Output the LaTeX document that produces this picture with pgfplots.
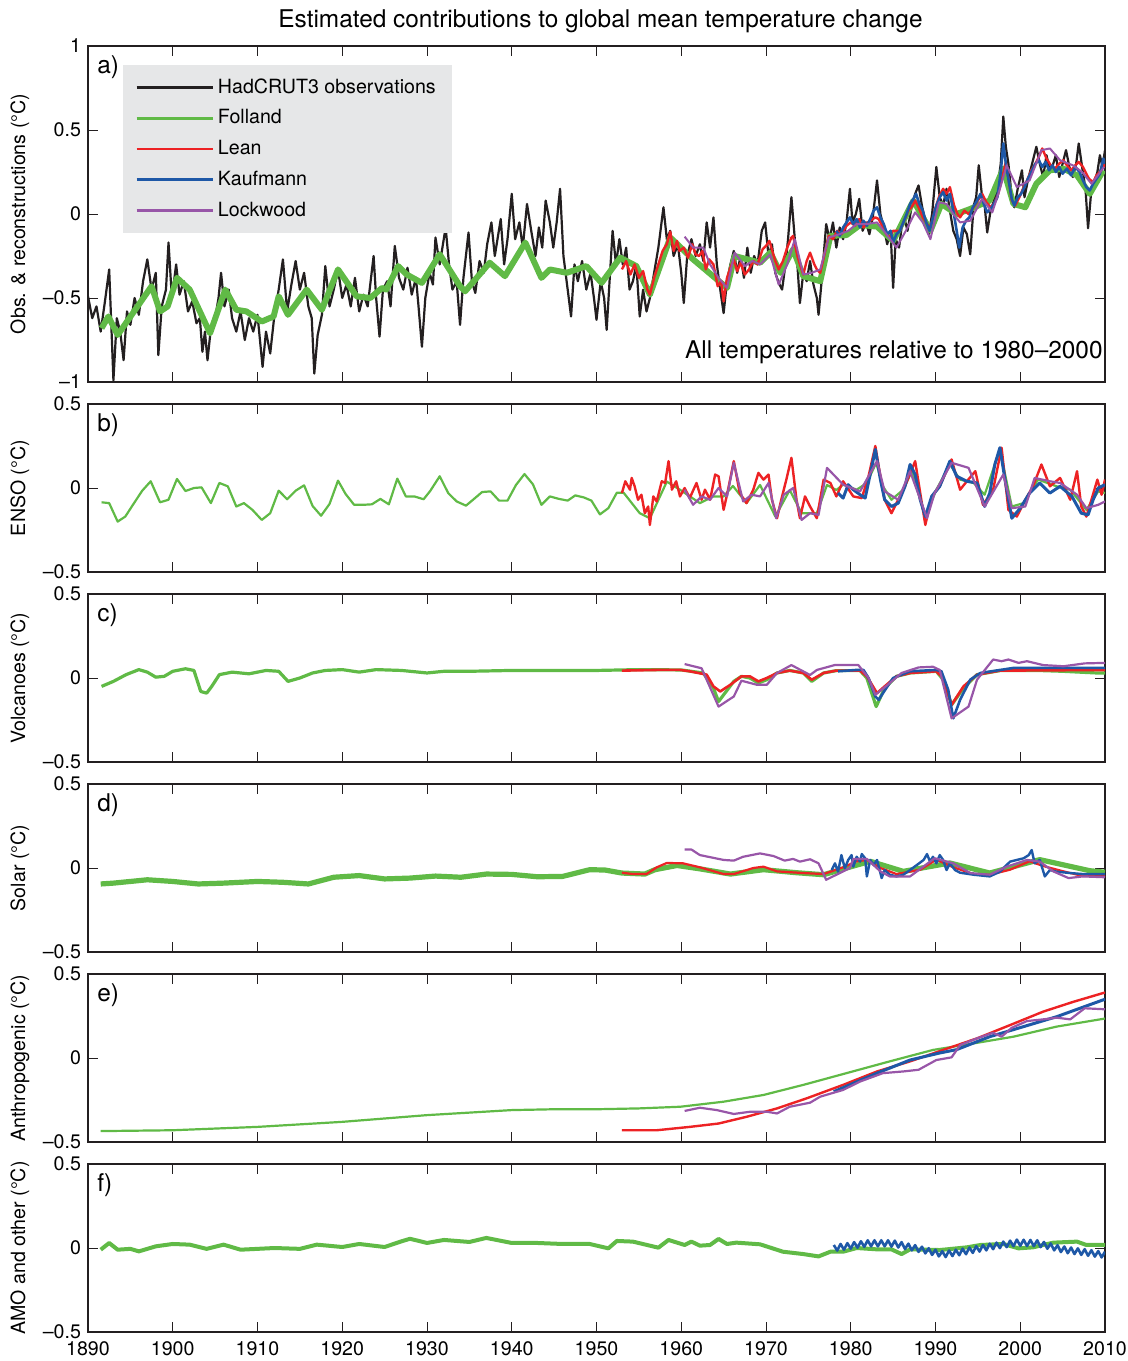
\documentclass[border=0pt]{standalone}
\usepackage{fontspec}
\setmainfont{TeX Gyre Heros}
\usepackage{pgfplots}
\pgfplotsset{compat=1.18}
\definecolor{cblk}{RGB}{35,31,32}
\definecolor{cgrn}{RGB}{96,186,70}
\definecolor{cred}{RGB}{237,34,36}
\definecolor{cblu}{RGB}{30,88,167}
\definecolor{cpur}{RGB}{152,86,168}
\definecolor{lgray}{RGB}{230,231,232}
\pgfplotsset{
  panel/.style={
    scale only axis, width=508.5pt, height=84pt,
    xmin=1890, xmax=2010, ymin=-0.5, ymax=0.5,
    xtick={1890,1900,1910,1920,1930,1940,1950,1960,1970,1980,1990,2000,2010}, xticklabels={},
    ytick={-0.5,0,0.5}, yticklabels={--0.5,0,0.5},
    tick align=inside, major tick length=5pt,
    axis line style={line width=0.9pt, cblk},
    major tick style={line width=0.5pt, cblk},
    ticklabel style={font=\fontsize{9.8}{11}\selectfont},
    xticklabel style={yshift=-1.5pt},
    label style={font=\fontsize{9.8}{11}\selectfont},
    ylabel style={at={(axis description cs:-0.0669,0.5)}, anchor=center},
    anchor=north west,
    every axis plot/.append style={line join=round},
  },
}
\tikzset{plab/.style={anchor=north west, inner sep=0pt, xshift=4.5pt, yshift=-4.5pt, font=\fontsize{12.2}{14}\selectfont}}
\begin{document}
\begin{tikzpicture}
\useasboundingbox (-44pt,23pt) rectangle (520pt,-657.5pt);
% ---------------- a ----------------
\begin{axis}[panel, at={(0pt,0pt)}, height=168pt, ymin=-1, ymax=1,
  ytick={-1,-0.5,0,0.5,1}, yticklabels={--1,--0.5,0,0.5,1},
  ylabel={Obs. \& reconstructions (°C)},
  title={Estimated contributions to global mean temperature change},
  title style={font=\fontsize{12.2}{14}\selectfont, at={(axis description cs:0.5,1)}, anchor=base, inner sep=0pt, yshift=3.5pt, xshift=2pt},
  legend style={at={(0.0344,0.946)}, anchor=north west, fill=lgray, draw=none,
    font=\fontsize{9.8}{11}\selectfont, inner xsep=6pt, inner ysep=5pt, row sep=2.7pt, cells={anchor=west}},
  legend image code/.code={\draw[#1, line width=1.3pt] (0pt,0pt) -- (38pt,0pt);},
]
\addplot[cblk, line width=1.1pt] coordinates {
(1890.0,-0.49)(1890.5,-0.62)(1891.0,-0.55)(1891.5,-0.70)(1892.0,-0.52)(1892.5,-0.33)(1893.0,-0.99)(1893.4,-0.62)(1893.8,-0.70)(1894.2,-0.87)
(1894.6,-0.58)(1895.0,-0.66)(1895.5,-0.50)(1896.0,-0.60)(1896.5,-0.40)(1897.0,-0.27)(1897.5,-0.45)(1898.0,-0.35)(1898.3,-0.84)(1898.7,-0.55)
(1899.2,-0.45)(1899.5,-0.17)(1899.9,-0.50)(1900.4,-0.30)(1900.8,-0.48)(1901.3,-0.40)(1901.8,-0.58)(1902.3,-0.52)(1902.8,-0.65)(1903.2,-0.62)
(1903.5,-0.82)(1903.8,-0.70)(1904.1,-0.87)(1904.5,-0.68)(1905.0,-0.62)(1905.4,-0.50)(1905.7,-0.35)(1906.1,-0.55)(1906.6,-0.45)(1907.0,-0.62)
(1907.5,-0.70)(1908.0,-0.58)(1908.5,-0.75)(1909.0,-0.62)(1909.5,-0.70)(1910.0,-0.60)(1910.6,-0.91)(1911.0,-0.70)(1911.5,-0.83)(1912.0,-0.60)
(1912.5,-0.45)(1913.0,-0.27)(1913.5,-0.58)(1914.0,-0.42)(1914.5,-0.28)(1915.0,-0.45)(1915.5,-0.35)(1916.0,-0.55)(1916.4,-0.62)(1916.7,-0.95)
(1917.1,-0.72)(1917.6,-0.60)(1918.0,-0.31)(1918.5,-0.55)(1919.0,-0.45)(1919.5,-0.33)(1920.0,-0.50)(1920.5,-0.42)(1921.0,-0.55)(1921.5,-0.38)
(1922.0,-0.58)(1922.5,-0.48)(1923.0,-0.55)(1923.7,-0.25)(1924.0,-0.50)(1924.4,-0.73)(1924.8,-0.45)(1925.3,-0.40)(1925.7,-0.55)(1926.2,-0.19)
(1926.7,-0.38)(1927.2,-0.45)(1927.7,-0.32)(1928.2,-0.48)(1928.7,-0.38)(1929.0,-0.55)(1929.4,-0.79)(1929.8,-0.50)(1930.3,-0.35)(1930.7,-0.42)
(1931.0,-0.14)(1931.5,-0.30)(1932.2,-0.08)(1932.6,-0.30)(1933.0,-0.45)(1933.5,-0.40)(1933.9,-0.66)(1934.3,-0.38)(1934.9,-0.11)(1935.3,-0.40)
(1935.7,-0.47)(1936.2,-0.28)(1936.7,-0.35)(1937.1,-0.18)(1937.6,-0.05)(1938.0,-0.25)(1938.7,-0.03)(1939.1,-0.30)(1939.5,-0.15)(1940.0,0.12)
(1940.4,-0.15)(1940.9,-0.05)(1941.3,-0.20)(1941.8,0.06)(1942.3,-0.10)(1942.8,-0.25)(1943.2,-0.08)(1943.6,-0.20)(1944.0,0.08)(1944.5,-0.05)
(1944.9,-0.20)(1945.3,-0.05)(1945.7,0.15)(1946.1,-0.25)(1946.6,-0.45)(1947.0,-0.61)(1947.4,-0.30)(1947.8,-0.40)(1948.3,-0.28)(1948.8,-0.45)
(1949.3,-0.35)(1949.7,-0.50)(1950.0,-0.63)(1950.5,-0.40)(1950.9,-0.50)(1951.2,-0.69)(1951.6,-0.35)(1951.9,-0.10)(1952.3,-0.30)(1952.7,-0.15)
(1953.1,-0.30)(1953.5,-0.20)(1953.9,-0.45)(1954.3,-0.40)(1954.7,-0.30)(1955.1,-0.61)(1955.5,-0.45)(1955.9,-0.58)(1956.3,-0.50)(1956.8,-0.35)
(1957.3,-0.20)(1957.9,0.04)(1958.3,-0.15)(1958.7,-0.10)(1959.1,-0.25)(1959.6,-0.18)(1960.0,-0.35)(1960.3,-0.53)(1960.7,-0.25)(1961.2,-0.15)
(1961.7,-0.25)(1962.2,-0.18)(1962.6,-0.28)(1963.0,-0.05)(1963.4,-0.20)(1963.8,-0.02)(1964.2,-0.30)(1964.6,-0.45)(1965.0,-0.59)(1965.4,-0.40)
(1965.8,-0.30)(1966.2,-0.22)(1966.6,-0.35)(1967.0,-0.25)(1967.4,-0.38)(1967.8,-0.20)(1968.2,-0.35)(1968.6,-0.25)(1969.0,-0.30)(1969.5,-0.10)
(1969.9,-0.05)(1970.3,-0.25)(1970.7,-0.18)(1971.1,-0.35)(1971.5,-0.41)(1971.9,-0.45)(1972.3,-0.30)(1972.6,-0.15)(1973.0,0.10)(1973.4,-0.15)
(1973.7,-0.30)(1974.0,-0.53)(1974.4,-0.35)(1974.8,-0.40)(1975.2,-0.28)(1975.6,-0.42)(1976.0,-0.50)(1976.2,-0.60)(1976.6,-0.38)(1977.1,-0.06)
(1977.5,-0.15)(1977.9,-0.05)(1978.3,-0.20)(1978.7,-0.08)(1979.1,-0.15)(1979.5,-0.05)(1979.9,0.15)(1980.2,-0.05)(1980.6,0.00)(1981.0,0.09)
(1981.4,-0.10)(1981.8,-0.05)(1982.2,-0.12)(1982.6,-0.02)(1983.1,0.20)(1983.5,0.00)(1983.9,-0.08)(1984.3,-0.18)(1984.7,-0.10)(1985.0,-0.44)
(1985.3,-0.15)(1985.7,-0.20)(1986.0,-0.08)(1986.3,-0.02)(1986.7,-0.10)(1987.2,0.05)(1987.6,0.12)(1988.0,0.17)(1988.4,0.05)(1988.8,-0.05)
(1989.2,-0.12)(1989.6,0.00)(1990.1,0.28)(1990.5,0.10)(1990.9,0.05)(1991.3,0.15)(1991.7,0.02)(1992.1,-0.10)(1992.5,-0.15)(1992.9,-0.25)
(1993.3,-0.08)(1993.7,-0.12)(1994.1,-0.24)(1994.5,0.05)(1994.8,0.10)(1995.1,0.29)(1995.5,0.10)(1995.8,0.05)(1996.1,-0.11)(1996.5,0.02)
(1996.9,0.08)(1997.3,0.15)(1997.7,0.30)(1998.0,0.58)(1998.3,0.40)(1998.6,0.30)(1999.0,0.10)(1999.3,0.04)(1999.7,0.15)(2000.2,0.26)
(2000.5,0.10)(2000.9,0.20)(2001.3,0.28)(2001.9,0.40)(2002.3,0.30)(2002.7,0.22)(2003.1,0.35)(2003.5,0.25)(2003.9,0.30)(2004.2,0.35)
(2004.6,0.22)(2005.0,0.30)(2005.4,0.38)(2005.8,0.28)(2006.2,0.22)(2006.6,0.30)(2006.9,0.42)(2007.3,0.28)(2007.7,0.15)(2008.0,-0.085)
(2008.4,0.15)(2008.8,0.20)(2009.1,0.25)(2009.4,0.35)(2009.7,0.28)(2010.0,0.38)};
\addlegendentry{HadCRUT3 observations}
\addplot[cgrn, line width=3pt] coordinates {
(1891.6,-0.68)(1892.4,-0.61)(1893.5,-0.72)(1897.5,-0.43)(1898.5,-0.58)(1899.4,-0.55)(1900.5,-0.38)(1902.0,-0.45)(1904.4,-0.71)(1906.2,-0.45)
(1907.5,-0.57)(1908.7,-0.58)(1910.5,-0.64)(1911.9,-0.61)(1912.5,-0.49)(1913.6,-0.60)(1915.8,-0.45)(1917.6,-0.57)(1919.5,-0.33)(1921.7,-0.49)
(1923.3,-0.50)(1924.7,-0.44)(1925.2,-0.45)(1926.6,-0.31)(1927.6,-0.36)(1929.4,-0.41)(1931.5,-0.24)(1933.9,-0.43)(1934.5,-0.46)(1937.4,-0.29)
(1939.2,-0.37)(1941.6,-0.17)(1943.5,-0.38)(1944.5,-0.33)(1946.5,-0.35)(1948.8,-0.31)(1950.6,-0.41)(1952.8,-0.26)(1954.7,-0.31)(1956.3,-0.48)
(1958.7,-0.14)(1961.4,-0.27)(1965.4,-0.44)(1966.3,-0.25)(1969.3,-0.29)(1970.5,-0.23)(1971.7,-0.35)(1973.2,-0.21)(1974.4,-0.37)(1976.4,-0.40)
(1977.6,-0.13)(1979.5,-0.125)(1981.1,-0.065)(1983.1,-0.075)(1985.0,-0.16)(1987.4,0.08)(1989.4,-0.10)(1990.7,0.06)(1992.5,0.0)(1994.1,0.03)
(1996.4,0.08)(1998.0,0.27)(1999.2,0.06)(2000.6,0.04)(2001.9,0.18)(2003.5,0.26)(2005.1,0.27)(2006.7,0.23)(2008.2,0.12)(2009.8,0.26)};
\addlegendentry{Folland}
\addplot[cred, line width=1.2pt] coordinates {
(1953.0,-0.33)(1953.5,-0.28)(1954.0,-0.36)(1954.5,-0.30)(1955.0,-0.38)(1955.5,-0.34)(1956.0,-0.45)(1956.3,-0.48)(1956.8,-0.38)(1957.3,-0.30)
(1957.8,-0.22)(1958.3,-0.18)(1958.7,-0.105)(1959.1,-0.22)(1959.5,-0.16)(1959.8,-0.22)(1960.3,-0.20)(1960.8,-0.26)(1961.3,-0.18)(1961.7,-0.24)
(1962.1,-0.25)(1962.5,-0.22)(1962.9,-0.33)(1963.3,-0.27)(1963.8,-0.30)(1964.3,-0.43)(1964.7,-0.40)(1965.0,-0.52)(1965.4,-0.38)(1965.8,-0.32)
(1966.2,-0.27)(1966.6,-0.34)(1967.0,-0.29)(1967.5,-0.36)(1968.0,-0.33)(1968.5,-0.28)(1969.0,-0.30)(1969.6,-0.21)(1970.0,-0.19)(1970.4,-0.16)
(1970.8,-0.23)(1971.1,-0.28)(1971.5,-0.33)(1972.0,-0.28)(1972.5,-0.20)(1973.0,-0.14)(1973.2,-0.13)(1973.7,-0.25)(1974.0,-0.30)(1974.4,-0.36)
(1974.8,-0.28)(1975.2,-0.23)(1975.7,-0.30)(1976.0,-0.33)(1976.4,-0.35)(1976.9,-0.24)(1977.4,-0.13)(1977.9,-0.15)(1978.4,-0.10)(1978.9,-0.12)
(1979.5,-0.07)(1980.0,-0.05)(1980.5,-0.07)(1981.0,-0.03)(1981.5,-0.08)(1982.0,-0.05)(1982.9,-0.02)(1983.3,-0.03)(1983.8,-0.08)(1984.2,-0.12)
(1984.6,-0.14)(1985.0,-0.10)(1985.8,-0.10)(1986.3,-0.04)(1986.8,0.02)(1987.3,0.05)(1987.6,0.08)(1988.0,0.04)(1988.5,-0.02)(1989.0,-0.06)
(1989.4,-0.08)(1989.9,0.02)(1990.4,0.10)(1990.9,0.15)(1991.3,0.12)(1991.7,0.16)(1992.2,0.05)(1992.6,0.00)(1992.9,-0.02)(1993.4,0.02)
(1993.9,0.00)(1994.5,0.04)(1995.0,0.08)(1995.5,0.12)(1996.0,0.07)(1996.5,0.04)(1996.9,0.06)(1997.4,0.12)(1997.9,0.22)(1998.3,0.31)
(1998.7,0.18)(1999.0,0.08)(1999.4,0.05)(1999.9,0.10)(2000.4,0.16)(2000.8,0.20)(2001.3,0.26)(2001.8,0.30)(2002.2,0.34)(2002.6,0.39)
(2003.1,0.33)(2003.6,0.29)(2004.1,0.27)(2004.6,0.30)(2005.1,0.32)(2005.5,0.29)(2006.0,0.26)(2006.5,0.29)(2006.9,0.31)(2007.4,0.28)
(2007.8,0.24)(2008.1,0.21)(2008.6,0.19)(2009.0,0.23)(2009.4,0.25)(2009.8,0.30)(2010.0,0.28)};
\addlegendentry{Lean}
\addplot[cblu, line width=1.3pt] coordinates {
(1978.3,-0.10)(1978.7,-0.13)(1979.1,-0.08)(1979.5,-0.05)(1979.9,-0.02)(1980.3,-0.06)(1980.7,-0.03)(1981.1,-0.08)(1981.5,-0.04)(1981.9,-0.07)
(1982.3,-0.03)(1982.7,0.02)(1983.1,0.04)(1983.5,-0.02)(1983.9,-0.06)(1984.3,-0.12)(1984.7,-0.10)(1985.0,-0.17)(1985.4,-0.12)(1985.8,-0.10)
(1986.2,-0.05)(1986.6,0.00)(1987.0,0.06)(1987.4,0.09)(1987.7,0.12)(1988.1,0.06)(1988.5,0.02)(1988.9,-0.05)(1989.3,-0.10)(1989.7,-0.02)
(1990.1,0.05)(1990.5,0.10)(1990.9,0.13)(1991.3,0.08)(1991.7,0.12)(1992.1,0.02)(1992.5,-0.10)(1992.8,-0.20)(1993.2,-0.08)(1993.6,-0.04)
(1994.0,-0.02)(1994.4,0.04)(1994.8,0.07)(1995.3,0.12)(1995.7,0.06)(1996.1,0.01)(1996.5,0.03)(1996.9,0.06)(1997.3,0.10)(1997.7,0.25)
(1998.0,0.42)(1998.3,0.30)(1998.7,0.18)(1999.0,0.09)(1999.3,0.05)(1999.7,0.10)(2000.1,0.12)(2000.5,0.16)(2000.9,0.21)(2001.3,0.25)
(2001.8,0.30)(2002.2,0.32)(2002.6,0.28)(2003.0,0.31)(2003.4,0.26)(2003.8,0.29)(2004.2,0.25)(2004.6,0.28)(2005.0,0.24)(2005.5,0.27)
(2006.0,0.23)(2006.5,0.28)(2007.0,0.25)(2007.4,0.20)(2007.8,0.16)(2008.2,0.14)(2008.6,0.18)(2009.0,0.21)(2009.4,0.24)(2009.8,0.33)(2010.0,0.30)};
\addlegendentry{Kaufmann}
\addplot[cpur, line width=1pt] coordinates {
(1960.4,-0.135)(1961.4,-0.20)(1962.6,-0.20)(1963.4,-0.30)(1964.4,-0.38)(1965.4,-0.44)(1966.3,-0.23)(1967.5,-0.31)(1968.4,-0.28)(1969.3,-0.30)
(1970.5,-0.24)(1971.5,-0.42)(1972.5,-0.30)(1973.4,-0.15)(1974.4,-0.36)(1975.4,-0.35)(1976.4,-0.33)(1977.4,-0.14)(1978.7,-0.12)(1979.7,-0.10)
(1980.7,-0.06)(1981.9,-0.06)(1983.1,-0.05)(1984.2,-0.12)(1985.4,-0.20)(1986.5,-0.10)(1987.6,0.01)(1988.5,-0.05)(1989.4,-0.15)(1990.4,0.07)
(1991.3,0.06)(1992.1,0.0)(1992.9,-0.05)(1994.1,-0.04)(1995.5,0.09)(1996.7,0.01)(1997.6,0.15)(1998.4,0.29)(1999.6,0.16)(2001.1,0.20)
(2002.5,0.38)(2003.5,0.39)(2004.7,0.32)(2006.2,0.29)(2007.3,0.25)(2008.4,0.18)(2009.9,0.28)};
\addlegendentry{Lockwood}
\node[plab] at (rel axis cs:0,1) {a)};
\node[anchor=base east, inner sep=0pt, xshift=-1pt, yshift=11.8pt, font=\fontsize{12.2}{14}\selectfont] at (rel axis cs:1,0) {All temperatures relative to 1980--2000};
\end{axis}
% ---------------- b ----------------
\begin{axis}[panel, at={(0pt,-179pt)}, ylabel={ENSO (°C)}]
\addplot[cgrn, line width=1.1pt] coordinates {
(1891.6,-0.085)(1892.5,-0.09)(1893.5,-0.20)(1894.4,-0.17)(1895.3,-0.10)(1896.4,-0.016)(1897.4,0.04)(1898.5,-0.085)(1899.5,-0.07)(1900.5,0.054)
(1901.5,-0.018)(1902.5,0.0)(1903.4,0.004)(1904.5,-0.09)(1905.5,0.03)(1906.5,0.01)(1907.5,-0.11)(1908.4,-0.09)(1909.4,-0.13)(1910.5,-0.19)
(1911.5,-0.15)(1912.5,-0.016)(1913.5,-0.067)(1914.5,-0.016)(1915.5,0.016)(1916.5,-0.107)(1917.5,-0.165)(1918.5,-0.095)(1919.5,0.044)(1920.4,-0.036)
(1921.4,-0.1)(1922.5,-0.1)(1923.5,-0.097)(1924.5,-0.065)(1925.5,-0.097)(1926.5,0.056)(1927.5,-0.05)(1928.5,-0.05)(1929.6,-0.067)(1930.4,-0.016)
(1931.5,0.07)(1932.5,-0.03)(1933.5,-0.08)(1934.6,-0.105)(1935.5,-0.067)(1936.5,-0.024)(1937.5,-0.02)(1938.5,-0.075)(1939.5,-0.075)(1940.5,0.018)
(1941.5,0.083)(1942.5,0.022)(1943.5,-0.10)(1944.5,-0.05)(1945.5,-0.064)(1946.6,-0.075)(1947.5,-0.044)(1948.5,-0.056)(1949.4,-0.075)(1950.4,-0.157)
(1951.4,-0.12)(1952.4,-0.028)(1953.2,-0.028)(1955.1,-0.15)(1956.3,-0.18)(1958.3,0.038)(1959.9,-0.012)(1962.2,-0.09)(1963.8,-0.05)(1965.0,-0.05)
(1966.1,0.012)(1967.7,-0.09)(1969.3,0.018)(1971.1,-0.17)(1972.8,-0.012)(1974.2,-0.15)(1976.0,-0.15)(1977.2,0.018)(1978.3,-0.012)(1979.1,0.02)
(1980.7,-0.01)(1981.9,0.03)(1983.0,0.15)(1983.8,0.01)(1984.8,-0.07)(1986.2,-0.01)(1987.2,0.10)(1988.8,-0.17)(1990.1,-0.01)(1991.7,0.14)
(1992.9,0.05)(1994.5,0.03)(1995.8,-0.04)(1997.6,0.23)(1999.0,-0.11)(2000.4,-0.09)(2002.1,0.05)(2004.3,0.01)(2005.9,-0.01)(2007.8,-0.13)
(2009.2,-0.02)(2010,-0.03)};
\addplot[cred, line width=1.2pt] coordinates {
(1953.0,-0.03)(1953.4,0.04)(1953.95,-0.01)(1954.15,0.06)(1954.5,0.01)(1954.9,-0.07)(1955.3,-0.04)(1955.7,-0.15)(1956.1,-0.11)(1956.3,-0.22)
(1956.7,-0.05)(1957.1,-0.08)(1957.7,0.04)(1958.1,0.03)(1958.5,0.16)(1958.9,-0.01)(1959.4,0.04)(1959.85,-0.05)(1960.4,0.0)(1961.0,-0.06)
(1961.8,0.03)(1962.4,-0.07)(1962.8,-0.01)(1963.4,-0.07)(1964.0,0.08)(1964.4,0.07)(1965.0,-0.13)(1965.4,-0.04)(1966.2,0.16)(1966.9,-0.03)
(1967.7,-0.09)(1968.5,-0.01)(1969.1,0.09)(1969.7,0.05)(1970.3,0.08)(1970.7,-0.07)(1971.3,-0.18)(1971.8,-0.07)(1972.4,0.05)(1973.0,0.18)
(1973.6,-0.07)(1974.0,-0.18)(1974.6,-0.05)(1975.2,-0.11)(1976.0,-0.18)(1976.8,0.05)(1977.6,0.03)(1978.3,-0.05)(1979.1,0.04)(1980.3,-0.05)
(1981.3,-0.06)(1982.1,0.07)(1982.9,0.25)(1983.5,0.07)(1984.0,-0.07)(1984.8,-0.15)(1985.6,-0.07)(1986.4,0.01)(1987.6,0.16)(1988.2,-0.03)
(1988.8,-0.22)(1989.55,-0.05)(1990.5,0.01)(1991.9,0.17)(1992.9,-0.01)(1993.7,0.04)(1994.7,0.10)(1995.6,-0.10)(1996.8,-0.01)(1997.8,0.24)
(1998.6,-0.13)(1999.6,-0.17)(2000.6,-0.07)(2001.5,0.01)(2002.5,0.14)(2003.5,0.01)(2004.7,0.06)(2005.9,-0.07)(2006.7,0.10)(2007.2,-0.11)
(2007.8,-0.17)(2008.4,-0.07)(2009.1,0.05)(2009.6,-0.04)(2010.0,0.05)};
\addplot[cblu, line width=1.5pt] coordinates {
(1978.5,-0.03)(1979.1,-0.06)(1979.7,0.02)(1980.3,-0.01)(1981.1,-0.04)(1981.7,-0.06)(1982.5,0.13)(1982.9,0.23)(1983.5,0.05)(1984.0,-0.07)
(1984.8,-0.11)(1985.6,-0.09)(1986.4,0.01)(1987.0,0.14)(1987.6,0.08)(1988.2,-0.07)(1988.8,-0.17)(1989.55,-0.05)(1990.5,0.01)(1991.7,0.16)
(1992.5,0.07)(1993.7,0.04)(1994.9,0.03)(1995.8,-0.11)(1996.4,-0.03)(1997.0,0.14)(1997.6,0.24)(1998.2,0.05)(1999.0,-0.18)(2000.0,-0.12)
(2001.1,-0.03)(2002.3,0.03)(2003.5,-0.03)(2004.7,0.01)(2006.1,-0.05)(2007.2,-0.15)(2008.0,-0.16)(2008.6,-0.07)(2009.2,0.0)(2010.0,0.02)};
\addplot[cpur, line width=1.1pt] coordinates {
(1960.4,-0.01)(1961.4,-0.10)(1962.4,-0.05)(1963.4,-0.07)(1964.4,0.0)(1965.4,-0.05)(1966.2,0.15)(1967.3,-0.08)(1968.3,-0.04)(1969.3,-0.05)
(1970.3,0.03)(1971.2,-0.18)(1972.1,-0.04)(1973.2,0.0)(1974.2,-0.19)(1975.2,-0.15)(1976.2,-0.16)(1977.2,0.12)(1979.1,0.02)(1981.1,-0.02)
(1983.1,0.16)(1984.0,-0.02)(1985.6,-0.07)(1987.0,0.10)(1989.0,-0.18)(1989.9,-0.03)(1991.9,0.15)(1993.9,0.12)(1995.8,-0.11)(1998.0,0.08)
(1999.0,-0.12)(2000.6,-0.11)(2001.7,0.06)(2003.5,0.04)(2004.7,0.03)(2006.7,-0.04)(2007.8,-0.12)(2009.2,-0.10)(2010.0,-0.08)};
\node[plab] at (rel axis cs:0,1) {b)};
\end{axis}
% ---------------- c ----------------
\begin{axis}[panel, at={(0pt,-274pt)}, ylabel={Volcanoes (°C)}]
\addplot[cgrn, line width=1.6pt] coordinates {
(1891.6,-0.05)(1893,-0.02)(1894.5,0.02)(1896,0.05)(1897,0.035)(1898,0.005)(1899,0.01)(1900,0.04)(1901.5,0.055)(1902.5,0.045)
(1903.3,-0.08)(1904,-0.09)(1904.6,-0.05)(1905.5,0.02)(1907,0.035)(1909,0.025)(1911,0.045)(1912.5,0.04)(1913.6,-0.02)(1915,0.0)
(1916.5,0.03)(1918,0.045)(1920,0.05)(1922,0.035)(1924,0.05)(1927,0.045)(1930,0.03)(1932,0.04)(1935,0.04)(1940,0.045)
(1945,0.045)(1950,0.045)(1955,0.05)(1960,0.048)(1962.6,0.03)(1963.8,-0.06)(1964.4,-0.14)(1965.3,-0.08)(1966.2,-0.02)(1967.1,0.01)
(1968.1,0.0)(1969.1,-0.03)(1970.1,-0.01)(1971.3,0.03)(1972.8,0.045)(1974.4,0.03)(1975.4,-0.02)(1976.8,0.03)(1978.3,0.044)(1981.1,0.044)
(1981.9,0.0)(1983.0,-0.17)(1984.0,-0.06)(1985.4,0.01)(1987,0.03)(1990.1,0.04)(1990.9,-0.01)(1991.9,-0.16)(1993.3,-0.06)(1994.9,0.02)
(1997.6,0.044)(2002,0.045)(2005,0.04)(2009,0.03)(2010,0.03)};
\addplot[cred, line width=1.3pt] coordinates {
(1953.0,0.044)(1957.1,0.048)(1959.9,0.048)(1961.0,0.04)(1963.0,0.02)(1963.8,-0.05)(1964.6,-0.08)(1965.8,-0.04)(1967.1,0.01)(1968.1,0.01)
(1969.1,-0.02)(1970.1,0.0)(1971.3,0.03)(1972.8,0.044)(1974.4,0.03)(1975.4,-0.01)(1976.8,0.03)(1978.3,0.044)(1981.1,0.044)(1981.9,0.01)
(1983.1,-0.09)(1984.0,-0.05)(1985.4,0.01)(1987.0,0.03)(1990.1,0.04)(1990.9,0.0)(1991.9,-0.16)(1993.3,-0.05)(1994.9,0.02)(1997.6,0.044)(2010,0.048)};
\addplot[cblu, line width=1.3pt] coordinates {
(1978.5,0.04)(1980.7,0.048)(1981.5,0.048)(1982.1,0.0)(1982.9,-0.11)(1983.3,-0.13)(1983.8,-0.09)(1985.0,0.0)(1987.0,0.04)(1990.1,0.048)
(1990.7,0.04)(1991.5,-0.07)(1992.1,-0.24)(1992.9,-0.13)(1994.1,-0.01)(1995.3,0.03)(1999.2,0.06)(2010,0.06)};
\addplot[cpur, line width=1.1pt] coordinates {
(1960.4,0.083)(1962.4,0.058)(1964.4,-0.17)(1966.2,-0.11)(1967.1,-0.016)(1968.9,-0.04)(1970.1,-0.04)(1971.3,0.03)(1973.0,0.077)(1975.2,0.018)
(1976.0,0.048)(1978.1,0.077)(1980.9,0.077)(1982.1,0.0)(1982.9,-0.10)(1984.6,-0.03)(1986.0,0.03)(1988.0,0.063)(1989.7,0.067)(1990.5,0.048)
(1991.9,-0.24)(1993.9,-0.17)(1994.9,-0.01)(1996.8,0.11)(1997.8,0.10)(1998.6,0.11)(1999.8,0.09)(2000.8,0.10)(2002.7,0.077)(2005.1,0.07)
(2007.6,0.087)(2010.0,0.09)};
\node[plab] at (rel axis cs:0,1) {c)};
\end{axis}
% ---------------- d ----------------
\begin{axis}[panel, at={(0pt,-369pt)}, ylabel={Solar (°C)}]
\addplot[cgrn, line width=2.6pt] coordinates {
(1891.5,-0.095)(1893,-0.09)(1895,-0.08)(1897,-0.07)(1900,-0.08)(1903,-0.095)(1906,-0.09)(1910,-0.08)(1913,-0.085)(1916,-0.095)
(1919,-0.055)(1922,-0.045)(1925,-0.065)(1928,-0.06)(1931,-0.048)(1934,-0.055)(1937,-0.036)(1940,-0.038)(1943,-0.052)(1946,-0.05)
(1949.2,-0.01)(1951,-0.012)(1953,-0.03)(1955.7,-0.036)(1956.9,-0.01)(1959.5,0.015)(1962.2,-0.005)(1965.8,-0.036)(1969.7,-0.01)(1973.6,-0.028)
(1976.8,-0.04)(1979.5,0.0)(1982.3,0.04)(1986.2,-0.02)(1991.7,0.03)(1996.4,-0.03)(2002.3,0.05)(2008.2,-0.016)(2010,-0.025)};
\addplot[cred, line width=1.1pt] coordinates {
(1953.0,-0.028)(1954.3,-0.036)(1955.9,-0.036)(1957.1,0.004)(1958.3,0.03)(1960.2,0.028)(1962.2,0.004)(1965.0,-0.036)(1966.2,-0.036)(1968.5,0.0)
(1969.7,0.008)(1971.3,-0.02)(1974.4,-0.03)(1976.8,-0.036)(1979.1,0.004)(1980.7,0.04)(1981.9,0.048)(1983.5,0.0)(1985.4,-0.036)(1988.2,-0.01)
(1990.1,0.05)(1992.1,0.004)(1994.5,-0.036)(1996.4,-0.04)(1998.8,-0.01)(2001.1,0.04)(2002.7,0.012)(2005.1,-0.02)(2007.4,-0.048)(2010,-0.048)};
\addplot[cblu, line width=1.2pt] coordinates {
(1977.75,-0.012)(1978.14,0.028)(1978.5,-0.022)(1978.9,0.077)(1979.3,-0.002)(1979.7,0.048)(1980.1,0.077)(1980.3,0.008)(1980.7,0.067)(1981.1,0.038)
(1981.3,0.083)(1981.7,0.058)(1981.9,-0.05)(1982.3,0.048)(1982.7,0.018)(1983.1,0.048)(1983.65,-0.06)(1984.0,-0.012)(1984.6,-0.04)(1985.4,-0.05)
(1986.2,-0.04)(1987.0,-0.012)(1987.8,0.018)(1988.6,0.048)(1989.0,0.083)(1989.35,0.038)(1989.7,0.067)(1990.1,0.028)(1990.5,0.077)(1990.9,0.048)
(1991.3,-0.012)(1991.7,0.028)(1992.3,-0.012)(1992.9,-0.028)(1994.5,-0.04)(1996.4,-0.05)(1997.6,-0.022)(1998.8,0.038)(1999.6,0.048)(2000.4,0.058)
(2001.0,0.077)(2001.35,0.107)(2001.7,0.028)(2002.3,0.048)(2002.9,-0.05)(2003.5,-0.012)(2004.3,-0.022)(2005.9,-0.03)(2007.4,-0.036)(2010,-0.036)};
\addplot[cpur, line width=1.1pt] coordinates {
(1960.4,0.11)(1961.2,0.11)(1962.2,0.077)(1965.0,0.048)(1966.2,0.044)(1967.3,0.067)(1969.3,0.087)(1970.9,0.071)(1972.2,0.044)(1973.2,0.054)
(1974.0,0.038)(1975.2,0.052)(1976.2,0.028)(1977.1,-0.07)(1979.9,0.0)(1980.3,0.054)(1981.9,0.054)(1983.5,-0.02)(1984.6,-0.05)(1987.0,-0.05)
(1989.9,0.058)(1992.1,0.028)(1994.1,-0.03)(1996.4,-0.04)(1998.4,0.008)(2000.8,0.048)(2002.3,0.038)(2003.9,-0.02)(2005.7,-0.06)(2007.4,-0.05)(2010,-0.055)};
\node[plab] at (rel axis cs:0,1) {d)};
\end{axis}
% ---------------- e ----------------
\begin{axis}[panel, at={(0pt,-464pt)}, ylabel={Anthropogenic (°C)}]
\addplot[cgrn, line width=1.1pt] coordinates {
(1891.5,-0.435)(1900,-0.43)(1910,-0.41)(1920,-0.38)(1930,-0.34)(1940,-0.31)(1945,-0.305)(1950,-0.305)(1955,-0.30)(1959.9,-0.29)
(1965.0,-0.26)(1969.7,-0.22)(1974.4,-0.16)(1979.5,-0.09)(1984.6,-0.02)(1989.7,0.048)(1994.5,0.087)(1999.2,0.127)(2004.3,0.187)(2010,0.235)};
\addplot[cred, line width=1.2pt] coordinates {
(1953.0,-0.43)(1957.1,-0.43)(1961.0,-0.41)(1964.4,-0.39)(1967.7,-0.35)(1971.3,-0.30)(1974.8,-0.24)(1979.1,-0.16)(1983.1,-0.08)(1987.0,-0.02)
(1990.9,0.048)(1994.9,0.117)(1998.8,0.196)(2002.7,0.276)(2006.3,0.335)(2010,0.39)};
\addplot[cblu, line width=1.5pt] coordinates {
(1978.0,-0.20)(1983.1,-0.09)(1987.0,-0.012)(1990.5,0.03)(1992.5,0.05)(1996.4,0.127)(2000.4,0.187)(2004.3,0.246)(2010,0.35)};
\addplot[cpur, line width=1.1pt] coordinates {
(1960.4,-0.315)(1962.2,-0.296)(1964.2,-0.31)(1966.2,-0.333)(1968.1,-0.32)(1970.1,-0.32)(1971.3,-0.33)(1972.8,-0.29)(1975.2,-0.266)(1976.4,-0.23)
(1979.1,-0.19)(1981.1,-0.14)(1983.8,-0.09)(1986.2,-0.08)(1988.0,-0.07)(1990.1,-0.012)(1991.9,0.004)(1992.9,0.077)(1994.9,0.117)(1996.8,0.15)
(1997.8,0.127)(1999.0,0.18)(2000.8,0.22)(2002.7,0.23)(2004.3,0.24)(2005.9,0.23)(2007.6,0.296)(2010,0.29)};
\node[plab] at (rel axis cs:0,1) {e)};
\end{axis}
% ---------------- f ----------------
\begin{axis}[panel, at={(0pt,-559pt)}, ylabel={AMO and other (°C)},
  xticklabels={1890,1900,1910,1920,1930,1940,1950,1960,1970,1980,1990,2000,2010}]
\addplot[cgrn, line width=2pt] coordinates {
(1891.5,-0.01)(1892.5,0.03)(1893.5,-0.01)(1895,-0.005)(1896,-0.02)(1898,0.01)(1900,0.024)(1902,0.02)(1904,-0.005)(1906,0.02)
(1908,-0.01)(1910,-0.005)(1912,0.0)(1915,-0.005)(1917,0.02)(1920,0.006)(1922,0.024)(1925,0.006)(1927,0.04)(1928,0.055)
(1930,0.03)(1932,0.048)(1935,0.036)(1937,0.06)(1940,0.03)(1943,0.03)(1946,0.024)(1949.2,0.024)(1951.4,-0.002)(1952.4,0.042)
(1954.3,0.038)(1957.3,0.002)(1958.5,0.048)(1960.4,0.018)(1961.2,0.038)(1962.2,0.014)(1963.4,0.018)(1964.4,0.054)(1965.4,0.024)(1966.5,0.032)
(1969.3,0.022)(1972.0,-0.022)(1974.4,-0.036)(1976.2,-0.05)(1977.6,-0.022)(1979.1,-0.022)(1980.7,0.0)(1983.1,-0.008)(1984.8,-0.008)(1986.0,-0.036)
(1987.0,-0.008)(1990.5,-0.012)(1993.7,0.004)(1995.3,0.018)(1998.0,0.024)(1999.8,-0.002)(2001.5,0.004)(2003.9,0.032)(2006.7,0.038)(2007.8,0.018)(2010,0.018)};
\addplot[cblu, line width=1.3pt] coordinates {
(1978.0,0.018)(1978.4,-0.015)(1978.8,0.024)(1979.2,-0.010)(1979.6,0.029)(1980.0,-0.004)(1980.4,0.035)(1980.8,0.002)(1981.2,0.040)(1981.6,0.007)
(1982.0,0.046)(1982.4,0.010)(1982.8,0.046)(1983.2,0.010)(1983.6,0.046)(1984.0,0.010)(1984.4,0.046)(1984.8,0.008)(1985.2,0.044)(1985.6,0.003)
(1986.0,0.035)(1986.4,-0.006)(1986.8,0.026)(1987.2,-0.014)(1987.6,0.017)(1988.0,-0.023)(1988.4,0.008)(1988.8,-0.032)(1989.2,-0.001)(1989.6,-0.041)
(1990.0,-0.010)(1990.4,-0.050)(1990.8,-0.019)(1991.2,-0.054)(1991.6,-0.015)(1992.0,-0.048)(1992.4,-0.010)(1992.8,-0.043)(1993.2,-0.004)(1993.6,-0.037)
(1994.0,0.003)(1994.4,-0.029)(1994.8,0.011)(1995.2,-0.021)(1995.6,0.018)(1996.0,-0.014)(1996.4,0.026)(1996.8,-0.007)(1997.2,0.032)(1997.6,-0.001)
(1998.0,0.038)(1998.4,0.005)(1998.8,0.044)(1999.2,0.011)(1999.6,0.050)(2000.0,0.013)(2000.4,0.049)(2000.8,0.012)(2001.2,0.048)(2001.6,0.011)
(2002.0,0.046)(2002.4,0.005)(2002.8,0.036)(2003.2,-0.004)(2003.6,0.027)(2004.0,-0.014)(2004.4,0.017)(2004.8,-0.024)(2005.2,0.009)(2005.6,-0.031)
(2006.0,0.003)(2006.4,-0.036)(2006.8,-0.002)(2007.2,-0.041)(2007.6,-0.007)(2008.0,-0.046)(2008.4,-0.013)(2008.8,-0.051)(2009.2,-0.018)(2009.6,-0.056)(2010.0,-0.022)};
\node[plab] at (rel axis cs:0,1) {f)};
\end{axis}
\end{tikzpicture}
\end{document}
